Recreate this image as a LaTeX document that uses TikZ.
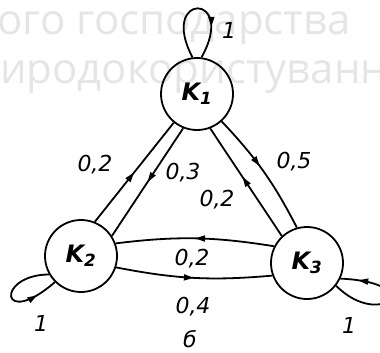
\documentclass[tikz,border=0pt]{standalone}
\usepackage{fontspec}
\setmainfont{DejaVu Sans}
\newfontfamily\wmfont{Open Sans}
\usetikzlibrary{arrows.meta,decorations.markings}
\begin{document}
\begin{tikzpicture}[x=1pt,y=-1pt,
  state/.style={circle,draw,line width=1.8pt,minimum size=72pt,inner sep=0pt,font=\bfseries\itshape\fontsize{24}{24}\selectfont},
  edge/.style={line width=1.8pt,postaction={decorate},decoration={markings,mark=at position #1 with {\arrow{Triangle[length=10pt,width=6pt]}}}},
  edge/.default=0.5,
  lab/.style={font=\itshape\fontsize{22}{22}\selectfont,inner sep=0pt},
  wm/.style={anchor=base west,inner sep=0pt,text=black!10,font=\wmfont\fontsize{42}{42}\selectfont}]
\useasboundingbox (0,0) rectangle (380,353);
\clip (0,0) rectangle (380,353);
\node[wm] (w1) at (-3,35) {ого господарства};
\node[wm] (w2) at (0,83) {иродокористуванн};
\node[state] (K1) at (197,94) {K\textsubscript{1}};
\node[state] (K2) at (81,256) {K\textsubscript{2}};
\node[state] (K3) at (307,263) {K\textsubscript{3}};
\draw[edge] (K2.68) -- (K1.231);
\draw[edge] (K1.248) -- (K2.33);
\draw[edge=0.45] (K1.312) to[bend left=8] (K3.106);
\draw[edge=0.55] (K3.133) -- (K1.291);
\draw[edge] (K3.153) to[bend right=8] (K2.20);
\draw[edge] (K2.-18) to[bend right=8] (K3.200);
\draw[edge=0.72] (K1.97) .. controls (158,-8) and (238,-8) .. (K1.83);
\draw[edge=0.78] (K2.210) .. controls (-5,275) and (0,330) .. (K2.225);
\draw[edge=0.85] (K3.322) .. controls (380,330) and (430,283) .. (K3.335);
\node[lab] (l1) at (95,165) {0,2};
\node[lab] (l2) at (183,173) {0,3};
\node[lab] (l3) at (294,162) {0,5};
\node[lab] (l4) at (217,200) {0,2};
\node[lab] (l5) at (192,259) {0,2};
\node[lab] (l6) at (193,307) {0,4};
\node[lab] (l7) at (229,30) {1};
\node[lab] (l8) at (41,323) {1};
\node[lab] (l9) at (349,325) {1};
\node[lab] (l10) at (190,339) {б};
\end{tikzpicture}
\end{document}
